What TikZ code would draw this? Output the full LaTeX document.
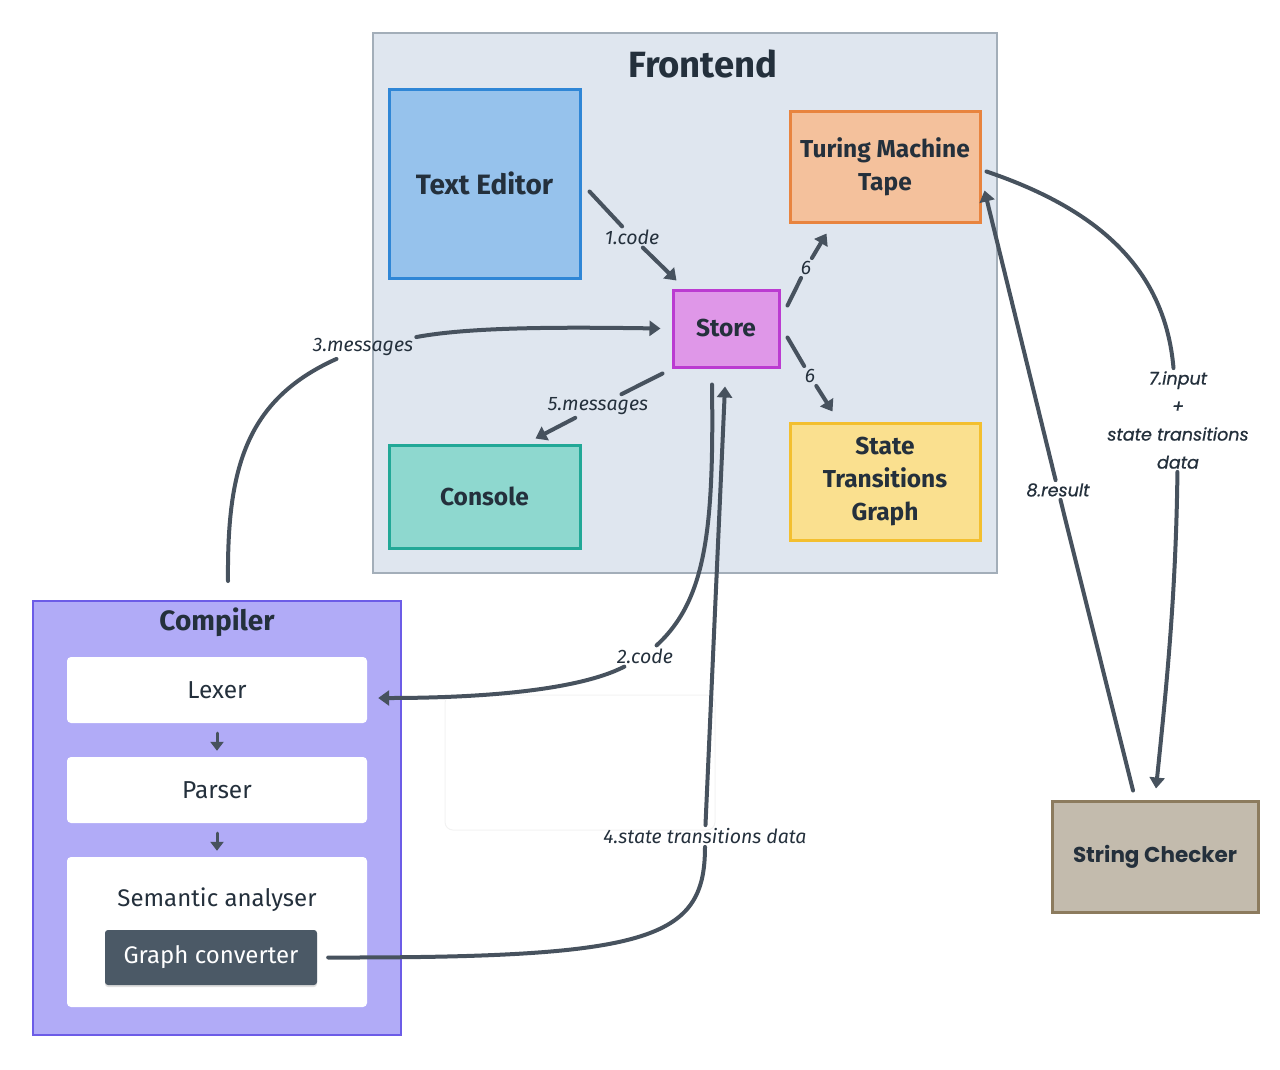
\documentclass[tikz,border=0pt]{standalone}
\usepackage{fontspec}
\setmainfont{Fira Sans}
\newfontfamily\popfont{Poppins}[FakeBold=0.8]
\newfontfamily\popbold{Poppins}
\usetikzlibrary{arrows.meta,shadows}
\definecolor{frontfill}{HTML}{DFE6EF}
\definecolor{frontdraw}{HTML}{A3AEB9}
\definecolor{edfill}{HTML}{96C2EC}
\definecolor{eddraw}{HTML}{2F86D6}
\definecolor{tmfill}{HTML}{F4C19C}
\definecolor{tmdraw}{HTML}{E8843F}
\definecolor{stfill}{HTML}{DF97E8}
\definecolor{stdraw}{HTML}{BB3BD1}
\definecolor{cofill}{HTML}{8ED8CF}
\definecolor{codraw}{HTML}{22A897}
\definecolor{sgfill}{HTML}{FAE08F}
\definecolor{sgdraw}{HTML}{F3BF2F}
\definecolor{cpfill}{HTML}{B1ABF7}
\definecolor{cpdraw}{HTML}{6C5CE7}
\definecolor{gcfill}{HTML}{4B5966}
\definecolor{scfill}{HTML}{C3BBAD}
\definecolor{scdraw}{HTML}{8C7B5E}
\definecolor{arrowc}{HTML}{47525E}
\definecolor{textc}{HTML}{24303C}
\tikzset{
  box/.style={rectangle, line width=3pt, text=textc, align=center, inner sep=0pt,
    font=\fontsize{24.5}{33}\selectfont\bfseries},
  inner/.style={rectangle, fill=white, rounded corners=4pt, text=textc, inner sep=0pt,
    minimum width=300pt, font=\fontsize{24.5}{28}\selectfont},
  conn/.style={draw=arrowc, line width=4pt, line cap=round},
  arrowtip/.style={-{Triangle[length=11pt,width=15pt]}},
  smalltip/.style={-{Triangle[length=9pt,width=13pt]}},
  lbl/.style={text=textc, inner sep=3pt, align=center,
    font=\fontsize{19.5}{22}\selectfont\itshape},
  plbl/.style={text=textc, inner sep=3pt, align=center,
    font=\popfont\fontsize{17.5}{28}\selectfont\itshape},
}
\begin{document}
\begin{tikzpicture}[x=1pt,y=-1pt]
\useasboundingbox (0,0) rectangle (1280,1069);
% containers
\node[rectangle, fill=frontfill, draw=frontdraw, line width=2.5pt,
  minimum width=624pt, minimum height=540pt] (fe) at (685,303) {};
\node[text=textc, font=\fontsize{36.5}{40}\selectfont\bfseries] (fet) at (703,64) {Frontend};
\node[rectangle, fill=cpfill, draw=cpdraw, line width=2.5pt,
  minimum width=368pt, minimum height=434pt] (cp) at (217,818) {};
\node[text=textc, font=\fontsize{28}{30}\selectfont\bfseries] (cpt) at (217,622) {Compiler};
% frontend boxes
\node[box, fill=edfill, draw=eddraw, minimum width=191pt, minimum height=189pt,
  font=\fontsize{28}{33}\selectfont\bfseries] (ted) at (484.5,183.5) {Text Editor};
\node[box, fill=tmfill, draw=tmdraw, minimum width=190pt, minimum height=111pt] (tm) at (885,166.5) {Turing Machine\\Tape};
\node[box, fill=stfill, draw=stdraw, minimum width=106pt, minimum height=77pt] (st) at (726,328.5) {Store};
\node[box, fill=cofill, draw=codraw, minimum width=191pt, minimum height=103pt] (con) at (484.5,496.5) {Console};
\node[box, fill=sgfill, draw=sgdraw, minimum width=190pt, minimum height=117pt] (sg) at (885,481.5) {State\\Transitions\\Graph};
% compiler boxes
\node[inner, minimum height=66pt] (lex) at (217,690) {Lexer};
\node[inner, minimum height=66pt] (par) at (217,790) {Parser};
\node[inner, minimum height=150pt] (sem) at (217,932) {};
\node[text=textc, font=\fontsize{24}{28}\selectfont] (semt) at (217,900) {Semantic analyser};
\node[rectangle, fill=gcfill, rounded corners=3pt, text=white, minimum width=212pt, minimum height=55pt,
  font=\fontsize{24}{28}\selectfont,
  drop shadow={shadow xshift=0pt, shadow yshift=-2pt, opacity=0.25}] (gc) at (211,957.5) {Graph converter};
% string checker
\node[box, fill=scfill, draw=scdraw, minimum width=206pt, minimum height=111pt,
  font=\popbold\fontsize{21.5}{24}\selectfont\bfseries] (sc) at (1155,856.5) {String Checker};
% faint card
\draw[black!5, line width=1pt, rounded corners=8pt] (445,695) rectangle (715,830);
% compiler internal arrows
\draw[conn, line width=3pt, smalltip] ([yshift=-10pt]lex.south) -- ([yshift=6pt]par.north);
\draw[conn, line width=3pt, smalltip] ([yshift=-10pt]par.south) -- ([yshift=6pt]sem.north);
% labels
\node[lbl] (l1) at (632,237) {1.code};
\node[lbl] (l2) at (645,656) {2.code};
\node[lbl] (l3) at (363,347) {3.messages};
\node[lbl] (l4) at (705,836) {4.state transitions data};
\node[lbl] (l5) at (598,406) {5.messages};
\node[lbl] (l6a) at (806,268) {6};
\node[lbl] (l6b) at (810,376) {6};
\node[plbl] (l7) at (1178,420) {7.input\\+\\state transitions\\data};
\node[plbl] (l8) at (1058,490) {8.result};
% 1
\draw[conn] ([shift={(8,8)}]ted.east) -- (l1);
\draw[conn, arrowtip] (l1) -- ([shift={(5,-8)}]st.north west);
% 2
\draw[conn] ([shift={(-14,16)}]st.south) .. controls (714,530) and (706,600) .. (l2);
\draw[conn, arrowtip] (l2) .. controls (575,692) and (470,698) .. ([shift={(11,8)}]lex.east);
% 3
\coordinate (c3) at (228,581);
\draw[conn] (c3) .. controls (227,470) and (245,400) .. (l3);
\draw[conn, arrowtip] (l3) .. controls (470,327) and (560,327) .. ([xshift=-11pt]st.west);
% 4
\draw[conn] ([xshift=11pt]gc.east) .. controls (650,958) and (705,940) .. (l4);
\draw[conn, arrowtip] (l4) -- ([shift={(-1,18)}]st.south);
% 5
\draw[conn] ([shift={(-9,5)}]st.south west) -- (l5);
\draw[conn, arrowtip] (l5) -- ([shift={(-46,-5)}]con.north east);
% 6
\draw[conn] ([shift={(7,-23)}]st.east) -- (l6a);
\draw[conn, arrowtip] (l6a) -- ([shift={(38,10)}]tm.south west);
\draw[conn] ([shift={(7,9)}]st.east) -- (l6b);
\draw[conn, arrowtip] (l6b) -- ([shift={(44,-10)}]sg.north west);
% 7
\draw[conn] ([shift={(5,5)}]tm.east) .. controls (1100,210) and (1165,270) .. (l7);
\draw[conn, arrowtip] (l7) .. controls (1176,600) and (1165,700) .. ([shift={(1,-11)}]sc.north);
% 8
\draw[conn] ([shift={(-22,-9)}]sc.north) -- (l8);
\draw[conn, arrowtip] (l8) -- ([shift={(3,24)}]tm.east);
\end{tikzpicture}
\end{document}
